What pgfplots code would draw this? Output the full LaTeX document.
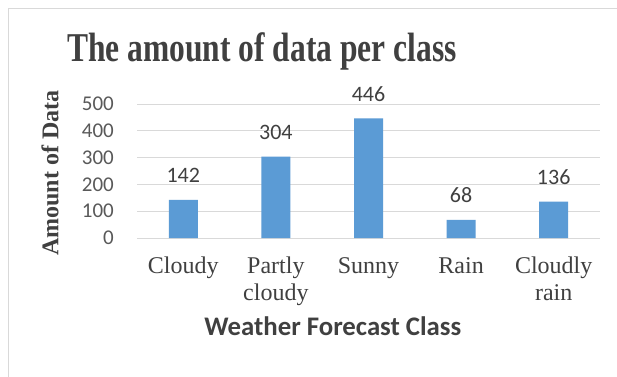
\documentclass[border=0pt]{standalone}
\usepackage{pgfplots}
\pgfplotsset{compat=1.18}
\usepackage{fontspec}
\setmainfont{Liberation Serif}
\newfontfamily\calibri{Carlito}
\definecolor{barblue}{HTML}{5B9BD5}
\definecolor{gridgray}{HTML}{D9D9D9}
\definecolor{txt}{HTML}{404040}
\definecolor{tick}{HTML}{595959}
\begin{document}
\begin{tikzpicture}[x=1pt,y=1pt]
\clip (0,0) rectangle (617,-376);
\fill[white] (0,0) rectangle (617,-376);
\draw[gridgray, line width=1pt] (8.5,-8.5) rectangle (640,-400);
\begin{axis}[
  at={(137pt,-238pt)}, anchor=south west,
  scale only axis, width=463pt, height=134pt,
  xmin=-0.5, xmax=4.5, ymin=0, ymax=500,
  ytick={0,100,200,300,400,500},
  xtick={0,1,2,3,4},
  xticklabels={Cloudy,Partly\\cloudy,Sunny,Rain,Cloudly\\rain},
  major tick length=0pt,
  axis line style={draw=none},
  ymajorgrids, grid style={gridgray, line width=1pt},
  /pgf/number format/assume math mode=true,
  yticklabel style={font=\calibri\fontsize{21}{24}\selectfont, text=tick, anchor=east, inner sep=0pt, xshift=-23pt},
  xticklabel style={font=\fontsize{24}{27}\selectfont, text=txt, align=center, anchor=north, inner sep=0pt, yshift=-19pt},
  clip=false,
  title={\scalebox{1}[1.3]{\fontsize{31.5}{36}\selectfont\bfseries The amount of data per class}},
  title style={at={(axis description cs:0.27,1.27)}, anchor=base, text=txt, inner sep=0pt},
  xlabel={\calibri\bfseries\fontsize{26.8}{30}\selectfont Weather Forecast Class},
  xlabel style={at={(axis description cs:0.423,-0.724)}, anchor=base, text=txt, inner sep=0pt},
  ylabel={\bfseries\fontsize{24}{28}\selectfont Amount of Data},
  ylabel style={at={(axis description cs:-0.188,0.485)}, anchor=center, rotate=0, text=txt, inner sep=0pt},
]
\addplot[ybar, bar width=29pt, fill=barblue, draw=none,
  nodes near coords,
  every node near coord/.append style={font=\calibri\fontsize{22}{24}\selectfont, text=txt, anchor=base, yshift=17pt, inner sep=0pt}]
  coordinates {(0,142) (1,304) (2,446) (3,68) (4,136)};
\end{axis}
\end{tikzpicture}
\end{document}
